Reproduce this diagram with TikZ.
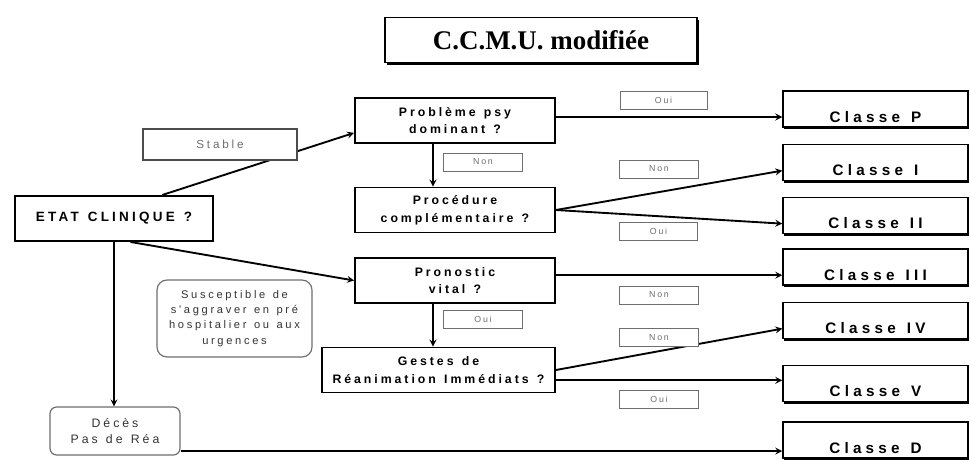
\documentclass[tikz,border=0pt]{standalone}
\usepackage{fontspec}
\setmainfont{Liberation Sans}
\newfontfamily\titlefont{Liberation Serif}
\newfontfamily\boxfont[LetterSpace=24, WordSpace=1.3]{Liberation Sans}
\newfontfamily\classfont[LetterSpace=28, WordSpace=1.3]{Liberation Sans}
\newfontfamily\notefont[LetterSpace=24, WordSpace=1.3]{Liberation Sans}
\newfontfamily\tagfont[LetterSpace=20]{Liberation Sans}
\usetikzlibrary{shapes,arrows,positioning,calc,shadows}
\definecolor{labelgray}{RGB}{110,110,110}

\begin{document}
\begin{tikzpicture}[
    x=0.3mm, y=-0.3mm,
    question/.style={rectangle, draw, line width=1.6pt, fill=white, align=center, minimum width=60mm, minimum height=13.5mm, inner sep=1pt, font=\boxfont\bfseries\fontsize{10.5}{15}\selectfont},
    classe/.style={rectangle, draw, line width=1.2pt, fill=white, minimum width=55.5mm, minimum height=10.8mm, text height=8mm, text depth=0mm, inner ysep=0.5mm, font=\classfont\bfseries\fontsize{13}{15}\selectfont, drop shadow={shadow xshift=0.4mm, shadow yshift=-0.6mm, opacity=1, fill=black}},
    answer/.style={rectangle, draw=labelgray, line width=0.6pt, fill=white, minimum width=23.5mm, minimum height=5.4mm, inner sep=0pt, text=labelgray, font=\tagfont\fontsize{7.5}{8}\selectfont},
    note/.style={rectangle, draw=labelgray, line width=1pt, fill=white, rounded corners=3mm, align=center, text=black!80, font=\notefont\fontsize{9.5}{13}\selectfont},
    arrow/.style={->, >=stealth, line width=1.6pt}
]
\useasboundingbox (0,0) rectangle (970,459);

% Title
\node[rectangle, draw, line width=1.2pt, fill=white, minimum width=93.6mm, minimum height=13.5mm, font=\titlefont\bfseries\fontsize{23}{26}\selectfont, drop shadow={shadow xshift=0.5mm, shadow yshift=-0.6mm, opacity=1, fill=black}] (title) at (541,40) {C.C.M.U. modifiée};

% Left side
\node[question, minimum width=59.4mm, font=\boxfont\bfseries\fontsize{11.5}{14}\selectfont] (etat) at (114,218.5) {ETAT CLINIQUE ?};
\node[note, rounded corners=2mm, minimum width=39mm, minimum height=14.4mm, font=\notefont\fontsize{10.5}{14}\selectfont] (deces) at (115,431) {Décès\\Pas de Réa};
\node[note, minimum width=46.5mm, minimum height=23.1mm] (aggrave) at (234.5,318.5) {Susceptible de\\s'aggraver en pré\\hospitalier ou aux\\urgences};

% Questions
\node[question] (psy) at (455,120.5) {Problème psy\\dominant ?};
\node[question] (proc) at (455,210) {Procédure\\complémentaire ?};
\node[question] (prono) at (455,280.5) {Pronostic\\vital ?};
\node[question, minimum width=69.9mm] (gestes) at (438.5,370) {Gestes de\\Réanimation Immédiats ?};

% Classes
\node[classe] (cp) at (875.5,109) {Classe P};
\node[classe] (ci) at (875.5,162.5) {Classe I};
\node[classe] (cii) at (875.5,215.5) {Classe II};
\node[classe] (ciii) at (875.5,267) {Classe III};
\node[classe] (civ) at (875.5,320.5) {Classe IV};
\node[classe] (cv) at (875.5,383.5) {Classe V};
\node[classe] (cd) at (875.5,440) {Classe D};

% Connections
\draw[arrow] (etat.26) -- (psy.-173);
\node[answer, draw=black!70, line width=1pt, minimum width=46.2mm, minimum height=9.3mm, font=\notefont\fontsize{10}{11}\selectfont] (stable) at (220,144.5) {Stable};
\draw[arrow] (etat.-55) -- (prono.west);
\draw[arrow] (etat.south) -- (etat.south |- deces.north);
\draw[arrow] (deces.-17) -- (deces.-17 -| cd.west);

\draw[arrow] ($(psy.south)+(-22,0)$) -- ($(proc.north)+(-22,0)$);
\draw[arrow] ($(prono.south)+(-22,0)$) -- ($(gestes.north)+(-5.5,0)$);

\draw[arrow] (psy.2) -- (psy.2 -| cp.west);
\draw[arrow] (proc.east) -- (ci.-175);
\draw[arrow] (proc.east) -- (cii.-175);
\draw[arrow] (prono.3) -- (prono.3 -| ciii.west);
\draw[arrow] (gestes.east) -- (civ.-175);
\draw[arrow] (gestes.-5) -- (gestes.-5 -| cv.west);

% Answers
\node[answer] (nonpsy) at (483,162) {Non};
\node[answer] (ouiprono) at (483,319) {Oui};
\node[answer, minimum width=26.1mm] (ouip) at (663.5,100) {Oui};
\node[answer] (noni) at (659,169) {Non};
\node[answer] (ouiii) at (658.5,231) {Oui};
\node[answer] (noniii) at (659,295) {Non};
\node[answer] (noniv) at (659,337.5) {Non};
\node[answer] (ouiv) at (659,399) {Oui};

\end{tikzpicture}
\end{document}
